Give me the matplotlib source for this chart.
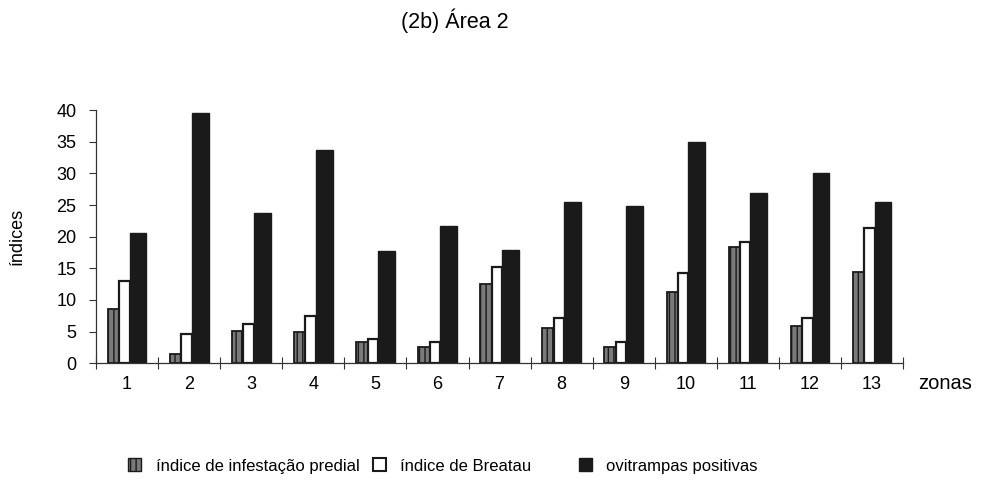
import matplotlib
matplotlib.use("Agg")
import matplotlib.pyplot as plt
import numpy as np
from matplotlib.patches import Patch

zonas = ["1", "2", "3", "4", "5", "6", "7", "8", "9", "10", "11", "12", "13"]
infestacao = [8.6, 1.4, 5.1, 4.9, 3.4, 2.6, 12.5, 5.5, 2.6, 11.3, 18.3, 5.9, 14.5]
breteau = [13.0, 4.7, 6.2, 7.4, 3.9, 3.3, 15.2, 7.1, 3.3, 14.2, 19.2, 7.2, 21.4]
ovitrampas = [20.6, 39.6, 23.8, 33.7, 17.8, 21.7, 17.9, 25.4, 24.8, 35.0, 26.9, 30.0, 25.5]
yticks = [0, 5, 10, 15, 20, 25, 30, 35, 40]

plt.rcParams['font.family'] = ['Liberation Sans', 'DejaVu Sans']

fig = plt.figure(figsize=(9.82, 4.87), dpi=100)
ax = fig.add_axes([0.0978, 0.254, 0.8218, 0.520])

x = np.arange(1, len(zonas) + 1)
ax.bar(x - 0.31, infestacao, width=0.183, align='edge', facecolor='#7a7a7a',
       edgecolor='#1a1a1a', hatch='|||', linewidth=1.3)
ax.bar(x - 0.127, breteau, width=0.169, align='edge', facecolor='white',
       edgecolor='#1a1a1a', linewidth=1.6)
ax.bar(x + 0.042, ovitrampas, width=0.27, align='edge', facecolor='#1a1a1a',
       edgecolor='#1a1a1a', linewidth=1.0)

ax.set_xlim(0.5, len(zonas) + 0.5)
ax.set_ylim(0, 40)
ax.set_yticks(yticks)
ax.set_yticklabels([str(v) for v in yticks], fontsize=13)
ax.set_xticks(x)
ax.set_xticklabels(zonas, fontsize=13)
ax.set_xticks(np.arange(0.5, len(zonas) + 1, 1), minor=True)
ax.tick_params(axis='x', which='major', length=0, pad=9)
ax.tick_params(axis='x', which='minor', direction='inout', length=9, width=0.8, color='#333')
ax.tick_params(axis='y', direction='out', length=5, width=0.8, color='#333', pad=9)
for s in ['top', 'right']:
    ax.spines[s].set_visible(False)
for s in ['left', 'bottom']:
    ax.spines[s].set_linewidth(0.9)
    ax.spines[s].set_color('#333')

ax.set_ylabel('índices', fontsize=13, labelpad=22)
fig.text(0.962, 0.212, 'zonas', fontsize=14.5, ha='center', va='center')
fig.text(0.463, 0.957, '(2b) Área 2', fontsize=15.5, ha='center', va='center')

labels = ['índice de infestação predial', 'índice de Breatau', 'ovitrampas positivas']
handles = [Patch(facecolor='#7a7a7a', edgecolor='#1a1a1a', hatch='|||', linewidth=1.0),
           Patch(facecolor='white', edgecolor='#1a1a1a', linewidth=1.5),
           Patch(facecolor='#1a1a1a', edgecolor='#1a1a1a')]
xs = [0.1300, 0.3800, 0.5896]
pads = [0.9, 0.8, 0.8]
for h, l, xx, p in zip(handles, labels, xs, pads):
    fig.legend([h], [l], loc='center left', bbox_to_anchor=(xx, 0.043),
               frameon=False, fontsize=12, handlelength=0.8, handleheight=0.8,
               handletextpad=p, borderpad=0, borderaxespad=0)

fig.savefig('out.png', dpi=100)
